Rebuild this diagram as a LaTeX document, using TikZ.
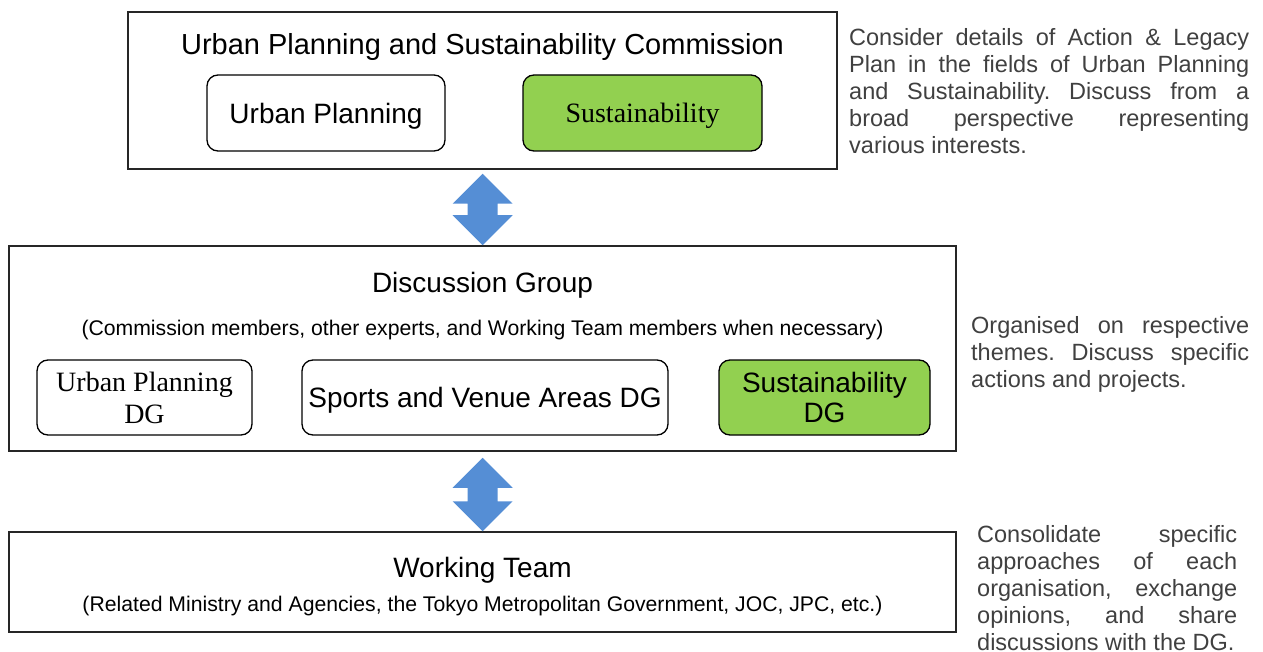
\documentclass[tikz,border=0pt]{standalone}
\usepackage{fontspec}
\setmainfont{Liberation Sans}
\newfontfamily\timesfont{Liberation Serif}
\usetikzlibrary{calc}
\hyphenpenalty=10000
\exhyphenpenalty=10000
\frenchspacing

\definecolor{leafgreen}{RGB}{146,208,80}
\definecolor{linkblue}{RGB}{85,142,213}
\definecolor{notegray}{RGB}{64,64,64}

\tikzset{
  panel/.style={draw=black!85,line width=1.5pt,inner sep=0pt},
  unit/.style={draw=black,line width=1.3pt,rounded corners=11pt,align=center,
               inner sep=0pt,font=\fontsize{28}{30.5}\selectfont},
  greenunit/.style={unit,fill=leafgreen},
  oneline/.style={text depth=0pt},
  head/.style={anchor=base,inner sep=0pt,font=\fontsize{28}{32}\selectfont},
  subhead/.style={anchor=base,inner sep=0pt,font=\fontsize{21.2}{24}\selectfont},
  note/.style={anchor=north west,inner sep=0pt,align=justify,text=notegray,
               font=\fontsize{23.5}{27}\selectfont\setlength\parindent{0pt}},
}

% two-headed block arrow from the south side of #1 (gap #3) to the north side of #2
\newcommand\twoway[3]{%
  \path ($(#1.south)+(0,#3)$) coordinate (tw1) (#2.north) coordinate (tw2);
  \fill[linkblue] (tw1) -- ++(30,30) -- ++(-15,0) -- ($(tw2)+(15,-30)$) -- ++(15,0)
    -- (tw2) -- ++(-30,-30) -- ++(15,0) -- ($(tw1)+(-15,30)$) -- ++(-15,0) -- cycle;}

\begin{document}
\begin{tikzpicture}[x=1pt,y=-1pt]
\useasboundingbox (0,0) rectangle (1263,652);

% commission
\node[panel,minimum width=709pt,minimum height=157pt] (usc) at (482.5,90.5) {};
\node[head,font=\fontsize{29}{33}\selectfont] (usct) at (482.5,55)
     {Urban Planning and Sustainability Commission};
\node[unit,oneline,minimum width=238pt,minimum height=76pt] (up)  at (326,113)   {Urban Planning};
\node[greenunit,oneline,minimum width=239pt,minimum height=76pt,
      font=\timesfont\fontsize{28}{32}\selectfont] (sus) at (642.5,113) {Sustainability};

% discussion group
\node[panel,minimum width=947pt,minimum height=205pt] (dg) at (482.5,348.5) {};
\node[head]    (dgt) at (482.5,292) {Discussion Group};
\node[subhead] (dgs) at (482.5,335)
     {(Commission members, other experts, and Working Team members when necessary)};
\node[unit,minimum width=215pt,minimum height=75pt,
      font=\timesfont\fontsize{28}{32}\selectfont] (updg) at (144.5,397.5) {Urban Planning\\DG};
\node[unit,oneline,minimum width=366pt,minimum height=75pt] (svdg) at (485,397.5) {Sports and Venue Areas DG};
\node[greenunit,minimum width=211pt,minimum height=75pt]     (sdg)  at (824.5,397.5) {Sustainability\\DG};

% working team
\node[panel,minimum width=947pt,minimum height=100pt] (wt) at (482.5,582) {};
\node[head]    (wtt) at (482.5,577) {Working Team};
\node[subhead] (wts) at (482.5,611)
     {(Related Ministry and Agencies, the Tokyo Metropolitan Government, JOC, JPC, etc.)};

\twoway{usc}{dg}{4}
\twoway{dg}{wt}{6}

% notes
\node[note,text width=400pt] (usn) at (849,28)
     {Consider details of Action \& Legacy\break
      Plan in the fields of Urban Planning\break
      and Sustainability. Discuss from a\break
      broad perspective representing\break
      various interests.};
\node[note,text width=278pt] (dgn) at (971,316)
     {Organised on respective\break
      themes. Discuss specific\break
      actions and projects.};
\node[note,text width=260pt] (wtn) at (977,525)
     {Consolidate specific\break
      approaches of each\break
      organisation, exchange\break
      opinions, and share\break
      discussions with the DG.};
\end{tikzpicture}
\end{document}
